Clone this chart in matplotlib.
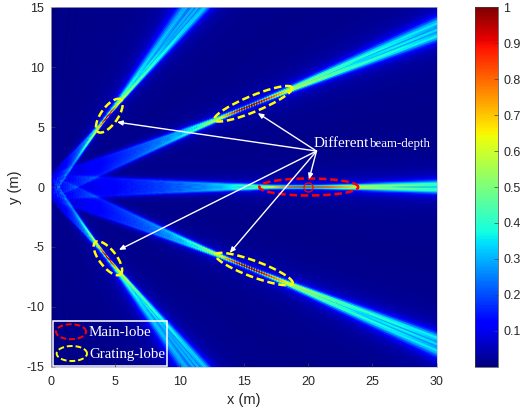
#!/usr/bin/env python
# -*- coding: utf-8 -*-
import numpy as np
import matplotlib
matplotlib.use('Agg')
import matplotlib.pyplot as plt
from matplotlib.patches import Rectangle

plt.rcParams['font.family'] = ['Liberation Sans', 'DejaVu Sans']
SERIF = ['Liberation Serif', 'DejaVu Serif']

# array parameters (lobes at sin=0.4/0.8, focus 20 m, aperture ~2.2 m)
wavelength = 0.01
spacing = 0.025
n_elements = 88
focus = (20.0, 0.0)

x_ticks = [0, 5, 10, 15, 20, 25, 30]
y_ticks = [-15, -10, -5, 0, 5, 10, 15]
y_ticklabels = ['-15', '-10', '-5', '0', '5', '10', '15']
cb_ticks = [0.1, 0.2, 0.3, 0.4, 0.5, 0.6, 0.7, 0.8, 0.9, 1.0]
cb_ticklabels = ['0.1', '0.2', '0.3', '0.4', '0.5', '0.6', '0.7', '0.8', '0.9', '1']

# ellipse long-axis ends (data units) and minor half width (px)
main_lobe = ((16.2, 0.0), (23.9, 0.0), 8.5)
grating_lobes = [((3.65, 4.6), (5.42, 7.3), 8.5),
                 ((12.7, 5.6), (18.75, 8.3), 8.0),
                 ((3.45, -4.6), (5.4, -7.3), 8.5),
                 ((12.8, -5.65), (18.8, -8.05), 8.0)]
arrow_from = (20.65, 3.0)
arrow_to = [(20.07, 0.64), (16.08, 6.17), (5.13, 5.42), (5.28, -5.25), (13.9, -5.5)]

# 3 samples per screen pixel, block maximum below so the thin focal lines survive
nx, ny, pool = 386, 359, 3
xs = np.linspace(0, 30, nx * pool)
ys = np.linspace(-15, 15, ny * pool)
X, Y = np.meshgrid(xs, ys)
k = 2 * np.pi / wavelength
elems = (np.arange(n_elements) - (n_elements - 1) / 2.0) * spacing
field = np.zeros(X.shape, dtype=complex)
for e in elems:
    r = np.sqrt(X ** 2 + (Y - e) ** 2)
    r0 = np.sqrt(focus[0] ** 2 + (focus[1] - e) ** 2)
    field += np.exp(1j * k * (r - r0))
gain = np.abs(field) / n_elements
gain = gain.reshape(ny, pool, nx, pool).max(axis=(1, 3))

W, H = 520.0, 417.0
fig = plt.figure(figsize=(5.2, 4.17), dpi=100)
ax = fig.add_axes([51 / W, (H - 366.7) / H, 385.7 / W, 359.4 / H])
im = ax.imshow(gain, extent=[0, 30, -15, 15], origin='lower', cmap='jet', vmin=0, vmax=1,
               aspect='auto', interpolation='bilinear')
sx, sy = 385.7 / 30, 359.4 / 30


def draw_ellipse(ends_a, ends_b, half_px, color, lw=1.8):
    # worked out in pixel space because the axes are not isotropic
    ax0, ay0 = ends_a[0] * sx, ends_a[1] * sy
    bx0, by0 = ends_b[0] * sx, ends_b[1] * sy
    cx, cy = (ax0 + bx0) / 2, (ay0 + by0) / 2
    a = np.hypot(bx0 - ax0, by0 - ay0) / 2
    ang = np.arctan2(by0 - ay0, bx0 - ax0)
    t = np.linspace(0, 2 * np.pi, 200)
    px = cx + a * np.cos(t) * np.cos(ang) - half_px * np.sin(t) * np.sin(ang)
    py = cy + a * np.cos(t) * np.sin(ang) + half_px * np.sin(t) * np.cos(ang)
    ax.plot(px / sx, py / sy, color=color, lw=lw, ls=(0, (3, 1.5)))


draw_ellipse(main_lobe[0], main_lobe[1], main_lobe[2], 'red')
for g in grating_lobes:
    draw_ellipse(g[0], g[1], g[2], 'yellow')
ax.plot([focus[0]], [focus[1]], 'o', mfc='none', mec='red', ms=6.5, mew=0.9)

for t in arrow_to:
    ax.annotate('', xy=t, xytext=arrow_from,
                arrowprops=dict(arrowstyle='-|>,head_width=0.14,head_length=0.32', color='white',
                                lw=1.0, shrinkA=0, shrinkB=0))
ax.text(20.4, 3.6, 'Different', color='white', family=SERIF, fontsize=10.9, va='center')
ax.text(24.8, 3.55, 'beam-depth', color='white', family=SERIF, fontsize=9.3, va='center')

# hand drawn legend box
ax.add_patch(Rectangle((0.16, -14.9), 8.9, 3.7, fill=False, ec='white', lw=1.1))
draw_ellipse((0.39, -12.08), (2.72, -12.08), 7.5, 'red', 1.4)
draw_ellipse((0.44, -13.9), (2.8, -13.9), 7.5, 'yellow', 1.4)
ax.text(2.9, -12.15, 'Main-lobe', color='white', family=SERIF, fontsize=10.8, va='center')
ax.text(3.0, -13.95, 'Grating-lobe', color='white', family=SERIF, fontsize=10.7, va='center')

ax.set_xlim(0, 30)
ax.set_ylim(-15, 15)
ax.set_xticks(x_ticks)
ax.set_yticks(y_ticks)
ax.set_yticklabels(y_ticklabels)
ax.tick_params(direction='in', length=3, width=0.5, color='#404040', labelcolor='#262626',
               labelsize=9)
ax.tick_params(axis='x', pad=7)
ax.tick_params(axis='y', pad=5)
ax.set_xlabel('x (m)', fontsize=10.5, color='#262626', labelpad=3)
ax.set_ylabel('y (m)', fontsize=10.5, color='#262626', labelpad=3)
for s in ax.spines.values():
    s.set_linewidth(0.5)
    s.set_color('#c0c0c0')

cax = fig.add_axes([475.3 / W, (H - 366.7) / H, 22.4 / W, 359.4 / H])
cb = fig.colorbar(im, cax=cax)
cb.set_ticks(cb_ticks)
cb.set_ticklabels(cb_ticklabels)
cax.tick_params(direction='in', length=3, width=0.5, color='#404040', labelcolor='#262626',
                labelsize=9, pad=4)
cb.outline.set_linewidth(0.5)
cb.outline.set_edgecolor('#404040')

plt.savefig('out.png', dpi=100)
